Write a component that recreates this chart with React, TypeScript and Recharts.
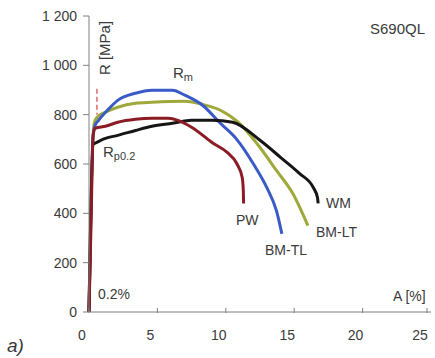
import { LineChart, Line, XAxis, YAxis, Customized } from "recharts";

// tensile curves, A [%] vs R [MPa]
const pwStrain = [0, 0.15, 0.3, 0.45, 1.2, 2.1, 3.4, 4.6, 5.8, 6.5, 7.5, 9.1, 10.1, 10.8, 11.2, 11.28, 11.3];
const pwStress = [0, 360, 715, 745, 753, 769, 781, 785, 785, 777, 749, 683, 647, 602, 545, 492, 440];

const tlStrain = [0, 0.3, 0.45, 0.7, 1.3, 2.1, 3.4, 4.6, 6.1, 7.0, 8.3, 9.6, 10.8, 12.0, 13.0, 13.7, 14.1];
const tlStress = [0, 715, 757, 777, 815, 858, 887, 899, 899, 879, 838, 765, 700, 602, 504, 411, 317];

const ltStrain = [0, 0.3, 0.4, 0.6, 1.2, 2.1, 3.4, 4.6, 7.0, 8.3, 9.6, 11.0, 12.5, 13.7, 14.9, 16.0];
const ltStress = [0, 715, 770, 790, 810, 830, 846, 850, 854, 842, 818, 765, 667, 574, 480, 350];

const wmStrain = [0, 0.3, 0.4, 1.2, 2.1, 3.4, 4.6, 6.1, 7.5, 9.0, 10.5, 12.5, 14.0, 15.4, 16.4, 16.7, 16.75];
const wmStress = [0, 680, 683, 704, 716, 736, 753, 765, 777, 777, 769, 696, 627, 561, 504, 464, 440];

// dashed Rp0.2 marker
const markStrain = [0.58, 0.58];
const markStress = [905, 800];

const xTicks = [0, 5, 10, 15, 20, 25];
const yTicks = [0, 200, 400, 600, 800, 1000, 1200];

const toPoints = (a: number[], r: number[]) => a.map((v, i) => ({ A: v, R: r[i] }));

const font = "'Liberation Sans', Arial, sans-serif";
const textCol = "#3a3a3a";

const fmtY = (v: number) => (v >= 1000 ? `${Math.floor(v / 1000)} ${String(v % 1000).padStart(3, "0")}` : String(v));

const XTick = (props: any) => {
  const { x, y, payload } = props;
  return (
    <g>
      <line x1={x} x2={x} y1={y - 4} y2={y + 1} stroke="#808080" />
      <text x={x - 7} y={y + 23} textAnchor="middle" dominantBaseline="central" fontSize={14} fill={textCol} fontFamily={font}>
        {payload.value}
      </text>
    </g>
  );
};

const Notes = () => (
  <g fontFamily={font} fill={textCol} fontSize={14}>
    <text x={370} y={34} fontSize={15}>S690QL</text>
    <text x={104} y={48} textAnchor="middle" dominantBaseline="central" transform="rotate(-90 104 48)" fontSize={15}>
      R [MPa]
    </text>
    <text x={173} y={78} fontSize={15}>
      R<tspan fontSize={11} dy={3}>m</tspan>
    </text>
    <text x={103} y={157} fontSize={15}>
      R<tspan fontSize={11} dy={3}>p0.2</tspan>
    </text>
    <text x={98} y={299}>0.2%</text>
    <text x={326} y={208}>WM</text>
    <text x={236} y={225}>PW</text>
    <text x={316} y={237}>BM-LT</text>
    <text x={265} y={255}>BM-TL</text>
    <text x={393} y={301}>A [%]</text>
    <text x={7} y={352} fontSize={19} fontStyle="italic">a)</text>
  </g>
);

export default function App() {
  return (
    <div style={{ position: "absolute", left: 0, top: 0, background: "#fff" }}>
      <LineChart width={435} height={358} margin={{ top: 16, right: 4, left: 0, bottom: 16 }}>
        <XAxis
          dataKey="A"
          type="number"
          domain={[0, 25]}
          ticks={xTicks}
          height={30}
          tickSize={0}
          tickMargin={0}
          tickLine={false}
          tick={<XTick />}
          stroke="#808080"
          allowDuplicatedCategory={false}
        />
        <YAxis
          dataKey="R"
          type="number"
          domain={[0, 1200]}
          ticks={yTicks}
          width={89}
          tickSize={6}
          tickMargin={6}
          tickFormatter={fmtY}
          stroke="#808080"
          tick={{ fill: textCol, fontSize: 14, fontFamily: font }}
        />
        <Line data={toPoints(ltStrain, ltStress)} dataKey="R" type="monotone" stroke="#9fa83a" strokeWidth={3} dot={false} isAnimationActive={false} />
        <Line data={toPoints(tlStrain, tlStress)} dataKey="R" type="monotone" stroke="#3a5bc7" strokeWidth={3} dot={false} isAnimationActive={false} />
        <Line data={toPoints(wmStrain, wmStress)} dataKey="R" type="monotone" stroke="#161616" strokeWidth={3} dot={false} isAnimationActive={false} />
        <Line data={toPoints(pwStrain, pwStress)} dataKey="R" type="monotone" stroke="#8b1c24" strokeWidth={3} dot={false} isAnimationActive={false} />
        <Line data={toPoints(markStrain, markStress)} dataKey="R" type="linear" stroke="#e06a6a" strokeWidth={1.5} strokeDasharray="5 3" dot={false} isAnimationActive={false} />
        <Customized component={Notes} />
      </LineChart>
    </div>
  );
}
